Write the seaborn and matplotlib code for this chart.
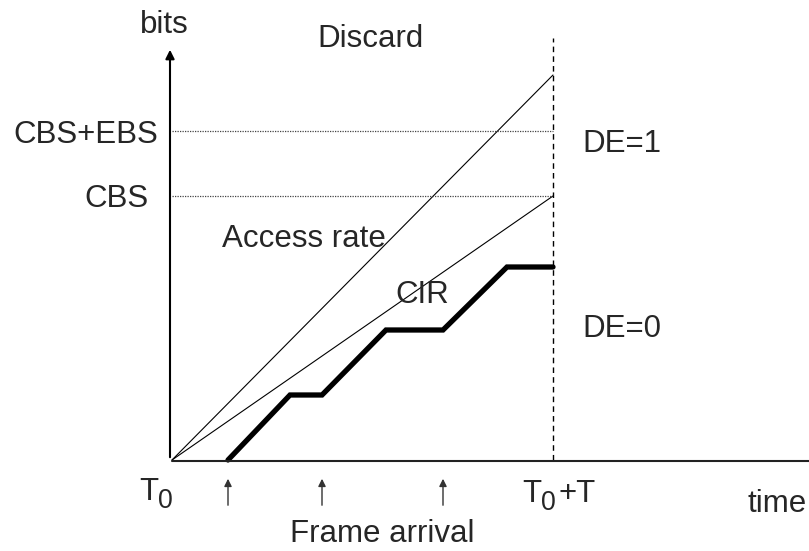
import pandas as pd
import matplotlib
matplotlib.use("Agg")
import matplotlib.pyplot as plt
import seaborn as sns

# diagram values (time and bits measured from the origin T0)
T = 381
access_rate_end = 385
cir_end = 264
cbs = 264
cbs_ebs = 329
frame_t = [56, 118, 150, 214, 271, 335, 381]
frame_bits = [0, 65, 65, 130, 130, 193, 193]
arrival_t = [56, 150, 271]

sns.set_style("white")
plt.rcParams['font.family'] = ['Liberation Sans', 'DejaVu Sans']

fig = plt.figure(figsize=(8.09, 5.51), dpi=100)
ax = fig.add_axes([0, 0, 1, 1])
ax.set_xlim(-172, 637)
ax.set_ylim(-91, 460)
ax.axis("off")

rates = pd.DataFrame({
    "time": [0, T, 0, T],
    "bits": [0, access_rate_end, 0, cir_end],
    "line": ["access", "access", "cir", "cir"],
})
sns.lineplot(data=rates, x="time", y="bits", units="line", estimator=None,
             color="black", linewidth=0.8, ax=ax)

frames = pd.DataFrame({"time": frame_t, "bits": frame_bits})
sns.lineplot(data=frames, x="time", y="bits", sort=False, color="black",
             linewidth=3.8, ax=ax, solid_joinstyle="miter")

# thresholds
for level in [cbs, cbs_ebs]:
    ax.plot([0, T], [level, level], color="#444444", linewidth=0.9, linestyle=(0, (1, 1)))

# T0+T marker
ax.plot([T, T], [0, 422], color="black", linewidth=1, linestyle=(0, (4, 3)))

# axes of the diagram
ax.plot([0, 637], [-1, -1], color="#222222", linewidth=1.5)
ax.annotate("", xy=(-2, 413), xytext=(-2, 0),
            arrowprops=dict(arrowstyle="-|>", color="black", lw=1.5, mutation_scale=13))

# frame arrival arrows
for t in arrival_t:
    ax.annotate("", xy=(t, -16), xytext=(t, -48),
                arrowprops=dict(arrowstyle="-|>", color="#333333", lw=1, mutation_scale=11))

fs = 22.5
sub = fs * 0.85
ax.text(-8, 427, "bits", fontsize=fs, ha="center", va="baseline")
ax.text(198, 413, "Discard", fontsize=fs, ha="center", va="baseline")
ax.text(-14, 317, "CBS+EBS", fontsize=fs, ha="right", va="baseline")
ax.text(-56, 253, "CBS", fontsize=fs, ha="center", va="baseline")
ax.text(410, 308, "DE=1", fontsize=fs, ha="left", va="baseline")
ax.text(410, 123, "DE=0", fontsize=fs, ha="left", va="baseline")
ax.text(50, 213, "Access rate", fontsize=fs, ha="left", va="baseline")
ax.text(223, 157, "CIR", fontsize=fs, ha="left", va="baseline")

# T0 and T0+T with a large subscript
ax.text(-33, -40, "T", fontsize=fs, ha="left", va="baseline")
ax.text(-14, -48, "0", fontsize=sub, ha="left", va="baseline")
ax.text(350, -42, "T", fontsize=fs, ha="left", va="baseline")
ax.text(369, -50, "0", fontsize=sub, ha="left", va="baseline")
ax.text(386, -42, "+T", fontsize=fs, ha="left", va="baseline")

ax.text(576, -52, "time", fontsize=fs, ha="left", va="baseline")
ax.text(210, -82, "Frame arrival", fontsize=fs, ha="center", va="baseline")

fig.savefig("out.png", dpi=100)
